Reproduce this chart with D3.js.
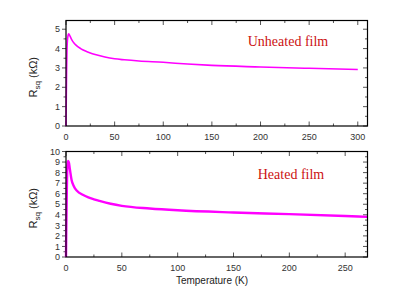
<!DOCTYPE html>
<html>
<head>
<meta charset="utf-8">
<script src="https://cdn.jsdelivr.net/npm/d3@7"></script>
<style>
  body { margin: 0; background: #fff; }
  svg text { font-family: "Liberation Sans", Arial, sans-serif; }
</style>
</head>
<body>
<svg id="chart" width="399" height="308"></svg>
<script>
// unheated film: temperature (K), sheet resistance (kOhm)
const unheatedT = [0, 0.3, 0.6, 1, 1.5, 2.2, 2.8, 4, 6, 8, 10, 15, 20, 25, 30, 40, 50, 60, 75, 100, 125, 150, 200, 250, 300]
const unheatedR = [0, 1.5, 2.8, 3.9, 4.45, 4.7, 4.76, 4.66, 4.45, 4.3, 4.19, 4.0, 3.87, 3.77, 3.69, 3.56, 3.47, 3.42, 3.36, 3.29, 3.2, 3.13, 3.05, 2.98, 2.92]

// heated film
const heatedT = [0, 0.3, 0.7, 1.2, 1.8, 2.5, 3.5, 5, 7, 10, 15, 20, 25, 30, 40, 50, 75, 100, 150, 200, 250, 270]
const heatedR = [0, 3, 6, 8.5, 9.1, 9.0, 8.3, 7.3, 6.7, 6.25, 5.9, 5.65, 5.47, 5.32, 5.05, 4.85, 4.6, 4.43, 4.22, 4.06, 3.88, 3.8]

const panels = [
  { T: unheatedT, R: unheatedR, label: 'Unheated film', top: 20.5, bottom: 126,
    xMax: 310, xMajor: [0, 50, 100, 150, 200, 250, 300], xMinor: 25,
    yMax: 5.45, yMajor: [0, 1, 2, 3, 4, 5], yMinor: 0.5, lw: 1.6, labelPos: [288, 46] },
  { T: heatedT, R: heatedR, label: 'Heated film', top: 151.5, bottom: 257,
    xMax: 270, xMajor: [0, 50, 100, 150, 200, 250], xMinor: 25,
    yMax: 10, yMajor: [0, 1, 2, 3, 4, 5, 6, 7, 8, 9, 10], yMinor: 0.5, lw: 2.4, labelPos: [291, 179] }
]

const left = 66
const right = 367.5
const svg = d3.select('#chart')

function drawPanel (p) {
  const x = d3.scaleLinear().domain([0, p.xMax]).range([left, right])
  const y = d3.scaleLinear().domain([0, p.yMax]).range([p.bottom, p.top])
  const g = svg.append('g')

  // minor ticks
  const xMinor = d3.range(0, p.xMax + 0.01, p.xMinor).filter(v => !p.xMajor.includes(v))
  const yMinor = d3.range(0, p.yMax + 0.01, p.yMinor).filter(v => !p.yMajor.includes(v))

  const tickColor = '#555'
  xMinor.forEach(v => {
    g.append('line').attr('x1', x(v)).attr('x2', x(v)).attr('y1', p.bottom).attr('y2', p.bottom - 2.5).attr('stroke', tickColor)
    g.append('line').attr('x1', x(v)).attr('x2', x(v)).attr('y1', p.top).attr('y2', p.top + 2.5).attr('stroke', tickColor)
  })
  p.xMajor.forEach(v => {
    g.append('line').attr('x1', x(v)).attr('x2', x(v)).attr('y1', p.bottom).attr('y2', p.bottom - 4.5).attr('stroke', tickColor)
    g.append('line').attr('x1', x(v)).attr('x2', x(v)).attr('y1', p.top).attr('y2', p.top + 4.5).attr('stroke', tickColor)
    g.append('text').attr('x', x(v)).attr('y', p.bottom + 14).attr('text-anchor', 'middle')
      .attr('font-size', 9).attr('fill', '#333').text(v)
  })
  yMinor.forEach(v => {
    g.append('line').attr('x1', left - 2.5).attr('x2', left).attr('y1', y(v)).attr('y2', y(v)).attr('stroke', tickColor)
    g.append('line').attr('x1', right).attr('x2', right - 2.5).attr('y1', y(v)).attr('y2', y(v)).attr('stroke', tickColor)
  })
  p.yMajor.forEach(v => {
    g.append('line').attr('x1', left - 4).attr('x2', left).attr('y1', y(v)).attr('y2', y(v)).attr('stroke', tickColor)
    g.append('line').attr('x1', right).attr('x2', right - 4.5).attr('y1', y(v)).attr('y2', y(v)).attr('stroke', tickColor)
    g.append('text').attr('x', left - 6).attr('y', y(v)).attr('dy', '0.35em').attr('text-anchor', 'end')
      .attr('font-size', 9).attr('fill', '#333').text(v)
  })

  // data curve
  const line = d3.line()
    .x(d => x(d[0]))
    .y(d => y(d[1]))
    .curve(d3.curveMonotoneX)
  g.append('path')
    .attr('d', line(p.T.map((t, i) => [t, p.R[i]])))
    .attr('fill', 'none')
    .attr('stroke', '#ff00ff')
    .attr('stroke-width', p.lw)

  // frame
  g.append('rect')
    .attr('x', left).attr('y', p.top)
    .attr('width', right - left).attr('height', p.bottom - p.top)
    .attr('fill', 'none').attr('stroke', '#000').attr('stroke-width', 1.2)

  // y label
  const cy = (p.top + p.bottom) / 2 + 4
  const lab = g.append('text')
    .attr('transform', `translate(37,${cy}) rotate(-90)`)
    .attr('text-anchor', 'middle').attr('font-size', 11).attr('fill', '#222')
  lab.append('tspan').text('R')
  lab.append('tspan').attr('font-size', 8).attr('dy', 3).text('sq')
  lab.append('tspan').attr('dy', -3).text(' (k\u03A9)')

  // film label
  g.append('text')
    .attr('x', p.labelPos[0]).attr('y', p.labelPos[1])
    .attr('text-anchor', 'middle')
    .style('font-family', '"Liberation Serif", "Times New Roman", serif')
    .attr('font-size', 14).attr('fill', '#cc1111')
    .text(p.label)
}

panels.forEach(drawPanel)

svg.append('text')
  .attr('x', 212).attr('y', 284)
  .attr('text-anchor', 'middle').attr('font-size', 10).attr('fill', '#222')
  .text('Temperature (K)')
</script>
</body>
</html>
